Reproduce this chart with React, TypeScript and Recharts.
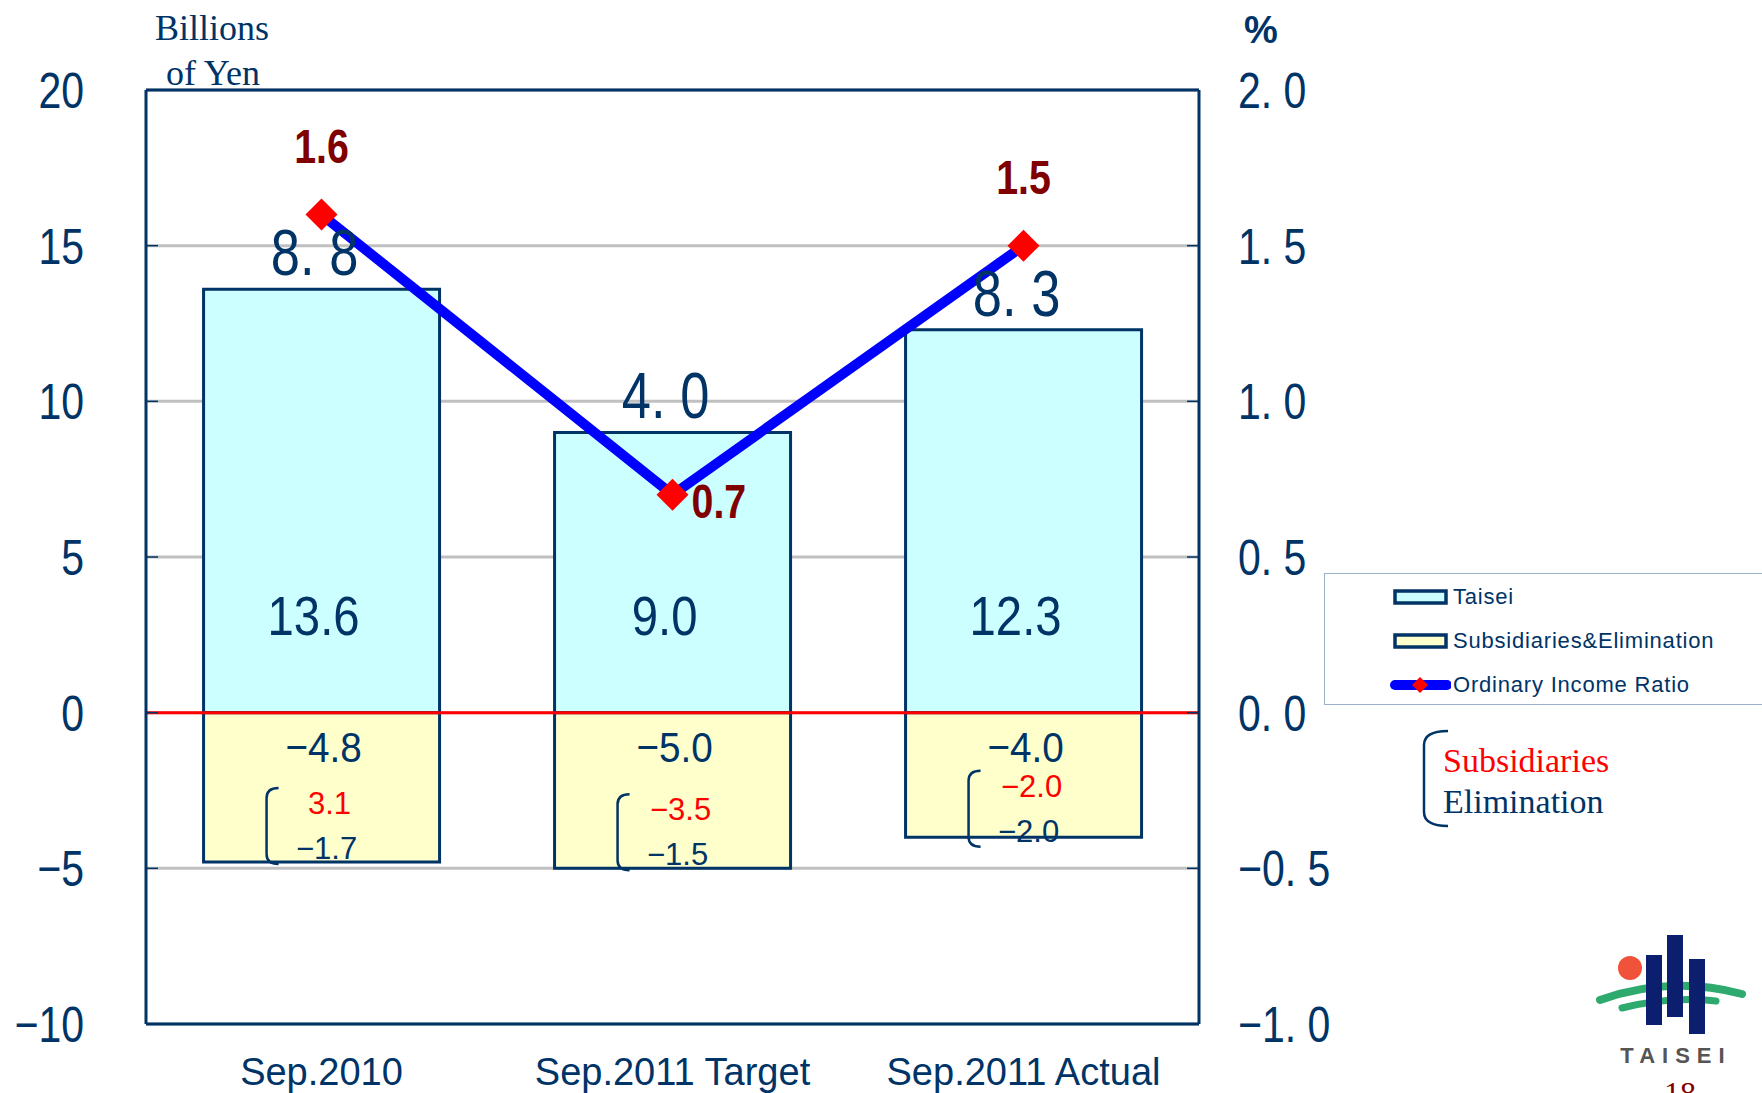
import React from 'react';
import {
  ComposedChart, Bar, Line, XAxis, YAxis, CartesianGrid, ReferenceLine, LabelList,
} from 'recharts';

const categories = ['Sep.2010', 'Sep.2011 Target', 'Sep.2011 Actual'];
const taisei = [13.6, 9.0, 12.3];
const subsidiariesElim = [-4.8, -5.0, -4.0];
const totals = [8.8, 4.0, 8.3];
const ratio = [1.6, 0.7, 1.5];
const subsidiariesOnly = [3.1, -3.5, -2.0];
const eliminationOnly = [-1.7, -1.5, -2.0];
const leftTicks = [-10, -5, 0, 5, 10, 15, 20];
const rightTicks = [-1.0, -0.5, 0, 0.5, 1.0, 1.5, 2.0];
const legendLabels = ['Taisei', 'Subsidiaries&Elimination', 'Ordinary Income Ratio'];

const data = categories.map((name, i) => ({
  name,
  taisei: taisei[i],
  subs: subsidiariesElim[i],
  ratio: ratio[i],
}));

const NAVY = '#003366';
const DARKRED = '#800000';
const SANS = "'Liberation Sans', Arial, sans-serif";
const SERIF = "'Liberation Serif', 'Times New Roman', serif";

const minus = (s: string) => s.replace('-', '\u2212');
const fmtOne = (v: number) => minus(v.toFixed(1));
const fmtLeft = (v: number) => minus(String(v));
const fmtRight = (v: number) => minus(v.toFixed(1).replace('.', '. '));

type NTProps = {
  x: number; y: number; anchor?: 'start' | 'middle' | 'end'; size: number; fill: string;
  weight?: string; sx?: number; dy?: string; children: React.ReactNode; spacing?: number;
};
const NText = ({ x, y, anchor = 'middle', size, fill, weight = 'normal', sx = 0.82, dy, children, spacing }: NTProps) => (
  <text
    transform={`translate(${x} ${y}) scale(${sx} 1)`}
    x={0}
    y={0}
    dy={dy}
    textAnchor={anchor}
    fontSize={size}
    fontWeight={weight}
    fill={fill}
    fontFamily={SANS}
    letterSpacing={spacing}
  >
    {children}
  </text>
);

const LeftTick = (props: any) => {
  const { x, y, payload } = props;
  return (
    <g>
      <line x1={x} x2={x + 12} y1={y} y2={y} stroke={NAVY} strokeWidth={1.5} />
      <NText x={x - 62} y={y} dy="0.36em" anchor="end" size={50} fill={NAVY}>
        {fmtLeft(payload.value)}
      </NText>
    </g>
  );
};

const RightTick = (props: any) => {
  const { x, y, payload } = props;
  return (
    <g>
      <line x1={x - 12} x2={x} y1={y} y2={y} stroke={NAVY} strokeWidth={1.5} />
      <NText x={x + 39} y={y} dy="0.36em" anchor="start" size={50} fill={NAVY}>
        {fmtRight(payload.value)}
      </NText>
    </g>
  );
};

const XTick = (props: any) => {
  const { x, y, payload } = props;
  return (
    <NText x={x} y={y + 61} anchor="middle" size={38} sx={1} fill={NAVY}>
      {payload.value}
    </NText>
  );
};

const TaiseiLabel = (props: any) => {
  const { x, y, width, height, index } = props;
  const top = Math.min(y, y + height);
  const bottom = Math.max(y, y + height);
  const cx = x + width / 2;
  return (
    <g>
      <NText x={cx - 7} y={top - 14} size={64} fill={NAVY}>
        {totals[index].toFixed(1).replace('.', '. ')}
      </NText>
      <NText x={cx - 8} y={bottom - 78} size={55} sx={0.86} fill={NAVY}>
        {taisei[index].toFixed(1)}
      </NText>
    </g>
  );
};

const SubsLabel = (props: any) => {
  const { x, y, width, height, index } = props;
  const top = Math.min(y, y + height);
  const bottom = Math.max(y, y + height);
  const cx = x + width / 2;
  const redY = Math.max(bottom - 48, top + 84);
  const darkY = redY + 45;
  const bx = cx - 55;
  const bt = redY - 26;
  const bb = darkY + 5;
  return (
    <g>
      <NText x={cx + 2} y={top + 49} size={43} sx={0.9} fill={NAVY}>
        {fmtOne(subsidiariesElim[index])}
      </NText>
      <path
        d={`M ${bx + 12} ${bt} Q ${bx} ${bt} ${bx} ${bt + 10} L ${bx} ${bb - 10} Q ${bx} ${bb} ${bx + 12} ${bb}`}
        fill="none" stroke={NAVY} strokeWidth={2.5}
      />
      <NText x={cx + 8} y={redY} size={31} sx={1} fill="#FF0000">
        {fmtOne(subsidiariesOnly[index])}
      </NText>
      <NText x={cx + 5} y={darkY} size={31} sx={1} fill={NAVY}>
        {fmtOne(eliminationOnly[index])}
      </NText>
    </g>
  );
};

const RatioLabel = (props: any) => {
  const { x, y, index } = props;
  const txt = ratio[index].toFixed(1);
  if (index === 1) {
    return (
      <NText x={x + 19} y={y + 23} anchor="start" size={48} weight="bold" fill={DARKRED}>
        {txt}
      </NText>
    );
  }
  return (
    <NText x={x} y={y - 52} anchor="middle" size={48} weight="bold" fill={DARKRED}>
      {txt}
    </NText>
  );
};

const Diamond = (props: any) => {
  const { cx, cy } = props;
  if (cx == null || cy == null) return null;
  const r = 16;
  return <polygon points={`${cx},${cy - r} ${cx + r},${cy} ${cx},${cy + r} ${cx - r},${cy}`} fill="#FF0000" />;
};

const LegendBox = () => {
  const row = (top: number, icon: React.ReactNode, label: string) => (
    <div style={{ position: 'absolute', left: 64, top: top - 14, height: 28, display: 'flex', alignItems: 'center' }}>
      <svg width={62} height={28} style={{ display: 'block' }}>{icon}</svg>
      <span style={{ marginLeft: 2, whiteSpace: 'nowrap', letterSpacing: 0.8 }}>{label}</span>
    </div>
  );
  return (
    <div
      style={{
        position: 'absolute', left: 1324, top: 573,
        width: 438, height: 132, boxSizing: 'border-box', border: '1.5px solid #9AB0CB', borderRight: 'none',
        fontFamily: SANS, fontSize: 22, color: NAVY, background: '#fff',
      }}
    >
      {row(23, <rect x={6} y={8} width={51} height={12} fill="#CCFFFF" stroke={NAVY} strokeWidth={3.5} />, legendLabels[0])}
      {row(67, <rect x={6} y={8} width={51} height={12} fill="#FFFFCC" stroke={NAVY} strokeWidth={3.5} />, legendLabels[1])}
      {row(111, (
        <g>
          <line x1={6} x2={58} y1={14} y2={14} stroke="#0000FF" strokeWidth={10} strokeLinecap="round" />
          <polygon points="31,6 39,14 31,22 23,14" fill="#FF0000" />
        </g>
      ), legendLabels[2])}
    </div>
  );
};

const Overlay = () => (
  <svg width={1762} height={1093} style={{ position: 'absolute', left: 0, top: 0, pointerEvents: 'none' }}>
    <text x={155} y={40} fontSize={36} fill={NAVY} fontFamily={SERIF}>Billions</text>
    <text x={166} y={85} fontSize={36} fill={NAVY} fontFamily={SERIF}>of Yen</text>
    <text x={1244} y={43} fontSize={38} fontWeight="bold" fill={NAVY} fontFamily={SANS}>%</text>

    <path d="M 1448 731 Q 1424 731 1424 745 L 1424 812 Q 1424 826 1448 826" fill="none" stroke={NAVY} strokeWidth={2.5} />
    <text x={1443} y={772} fontSize={34} fill="#FF0000" fontFamily={SERIF}>Subsidiaries</text>
    <text x={1443} y={813} fontSize={34} fill={NAVY} fontFamily={SERIF}>Elimination</text>

    <g>
      <path d="M 1600 1000 Q 1670 975 1742 994" fill="none" stroke="#2EAA6E" strokeWidth={8} strokeLinecap="round" />
      <path d="M 1622 1008 Q 1670 996 1716 1001" fill="none" stroke="#2EAA6E" strokeWidth={7} strokeLinecap="round" />
      <circle cx={1630} cy={968} r={12} fill="#F0523A" />
      <rect x={1646} y={955} width={16} height={70} fill="#0B1F6E" />
      <rect x={1667} y={935} width={16} height={82} fill="#0B1F6E" />
      <rect x={1689} y={959} width={16} height={75} fill="#0B1F6E" />
      <text x={1676} y={1063} textAnchor="middle" fontSize={22} fontWeight="bold" fill="#555" fontFamily={SANS} letterSpacing={7}>TAISEI</text>
      <text x={1680} y={1104} textAnchor="middle" fontSize={32} fill={DARKRED} fontFamily={SERIF}>18</text>
    </g>
  </svg>
);

export default function App() {
  return (
    <div style={{ position: 'absolute', left: 0, top: 0, width: 1762, height: 1093, overflow: 'hidden', background: '#fff' }}>
      <ComposedChart
        width={1762}
        height={1093}
        data={data}
        stackOffset="sign"
        barCategoryGap="16.4%"
        margin={{ top: 90, right: 0, bottom: 0, left: 0 }}
      >
        <CartesianGrid yAxisId="left" vertical={false} stroke="#C0C0C0" strokeWidth={3} />
        <XAxis
          dataKey="name"
          height={69}
          tickSize={0}
          tickMargin={0}
          tickLine={false}
          axisLine={{ stroke: NAVY, strokeWidth: 3 }}
          tick={<XTick />}
          interval={0}
        />
        <YAxis
          yAxisId="left"
          orientation="left"
          width={146}
          domain={[-10, 20]}
          ticks={leftTicks}
          tickSize={0}
          tickMargin={0}
          tickLine={false}
          axisLine={{ stroke: NAVY, strokeWidth: 3 }}
          tick={<LeftTick />}
          allowDataOverflow
        />
        <YAxis
          yAxisId="right"
          orientation="right"
          width={563}
          domain={[-1, 2]}
          ticks={rightTicks}
          tickSize={0}
          tickMargin={0}
          tickLine={false}
          axisLine={{ stroke: NAVY, strokeWidth: 3 }}
          tick={<RightTick />}
          allowDataOverflow
        />
        <Bar yAxisId="left" dataKey="taisei" name={legendLabels[0]} stackId="a" fill="#CCFFFF" stroke={NAVY} strokeWidth={3} isAnimationActive={false}>
          <LabelList dataKey="taisei" content={<TaiseiLabel />} />
        </Bar>
        <Bar yAxisId="left" dataKey="subs" name={legendLabels[1]} stackId="a" fill="#FFFFCC" stroke={NAVY} strokeWidth={3} isAnimationActive={false}>
          <LabelList dataKey="subs" content={<SubsLabel />} />
        </Bar>
        <ReferenceLine yAxisId="left" y={0} stroke="#FF0000" strokeWidth={3} />
        <ReferenceLine yAxisId="left" y={20} stroke={NAVY} strokeWidth={3} />
        <Line
          yAxisId="right"
          dataKey="ratio"
          name={legendLabels[2]}
          stroke="#0000FF"
          strokeWidth={10}
          dot={<Diamond />}
          activeDot={false}
          isAnimationActive={false}
        >
          <LabelList dataKey="ratio" content={<RatioLabel />} />
        </Line>
      </ComposedChart>
      <LegendBox />
      <Overlay />
    </div>
  );
}
